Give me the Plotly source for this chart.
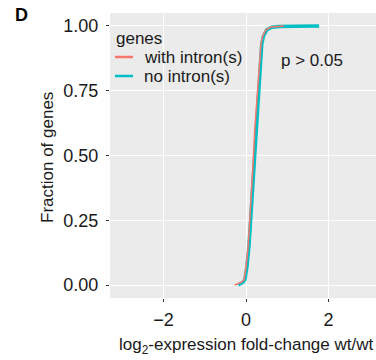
import plotly.graph_objects as go

# ECDF estimates
x_with = [-0.28, -0.12, -0.05, 0.0, 0.05, 0.09, 0.13, 0.17, 0.21, 0.25, 0.29, 0.32, 0.36, 0.40, 0.48, 0.60, 0.92]
f_with = [0.0, 0.01, 0.02, 0.07, 0.15, 0.25, 0.35, 0.47, 0.60, 0.70, 0.78, 0.87, 0.93, 0.96, 0.985, 0.996, 1.0]
x_no = [-0.19, -0.08, -0.03, 0.02, 0.07, 0.11, 0.15, 0.19, 0.23, 0.27, 0.31, 0.34, 0.38, 0.42, 0.50, 0.62, 0.80, 1.2, 1.77]
f_no = [0.0, 0.01, 0.02, 0.07, 0.15, 0.25, 0.35, 0.47, 0.60, 0.70, 0.78, 0.87, 0.93, 0.96, 0.985, 0.995, 0.998, 0.999, 1.0]

series_names = ["with intron(s)", "no intron(s)"]
series_colors = ["#F8766D", "#00BFC4"]
x_ticks = [-2, 0, 2]
x_ticklabels = ["\u22122", "0", "2"]
y_ticks = [0.0, 0.25, 0.5, 0.75, 1.0]
y_ticklabels = ["0.00", "0.25", "0.50", "0.75", "1.00"]

FONT = "Liberation Sans, Arial, Helvetica, sans-serif"
TXT = "#1a1a1a"

fig = go.Figure()
fig.add_trace(go.Scatter(x=x_no, y=f_no, mode="lines", name=series_names[1],
                         line=dict(color=series_colors[1], width=3.5), showlegend=False))
fig.add_trace(go.Scatter(x=x_with, y=f_with, mode="lines", name=series_names[0],
                         line=dict(color=series_colors[0], width=1.5), showlegend=False))

W, H = 376, 360
ml, mr, mt, mb = 110, 0, 13, 62
pw, ph = W - ml - mr, H - mt - mb

def px2paper_x(px):
    return (px - ml) / pw

def px2paper_y(py):
    return (H - mb - py) / ph

ann = []
# Panel label
ann.append(dict(text="<b>D</b>", x=px2paper_x(21), y=px2paper_y(15), xref="paper", yref="paper",
                showarrow=False, font=dict(size=18, color="black", family=FONT), xanchor="center", yanchor="middle"))
# y title
ann.append(dict(text="Fraction of genes", x=px2paper_x(47), y=px2paper_y(158), xref="paper", yref="paper",
                showarrow=False, textangle=-90, font=dict(size=17, color=TXT, family=FONT),
                xanchor="center", yanchor="middle"))
# x title
ann.append(dict(text="log<sub>2</sub>-expression fold-change wt/wt", x=0, y=px2paper_y(346),
                xref="x", yref="paper", showarrow=False, font=dict(size=17, color=TXT, family=FONT),
                xanchor="center", yanchor="middle"))
# p value
ann.append(dict(text="p > 0.05", x=1.6, y=0.865, xref="x", yref="y", showarrow=False,
                font=dict(size=17, color=TXT, family=FONT), xanchor="center", yanchor="middle"))
# legend (manual)
ann.append(dict(text="genes", x=px2paper_x(114), y=px2paper_y(38), xref="paper", yref="paper",
                showarrow=False, font=dict(size=17, color=TXT, family=FONT), xanchor="left", yanchor="middle"))
shapes = []
for i, (nm, col) in enumerate(zip(series_names, series_colors)):
    yy = 57 + 19 * i
    ann.append(dict(text=nm, x=px2paper_x(142), y=px2paper_y(yy), xref="paper", yref="paper",
                    showarrow=False, font=dict(size=17, color=TXT, family=FONT), xanchor="left", yanchor="middle"))
    shapes.append(dict(type="line", xref="paper", yref="paper", x0=px2paper_x(115), x1=px2paper_x(133),
                       y0=px2paper_y(yy), y1=px2paper_y(yy), line=dict(color=col, width=2.5)))

fig.update_layout(
    width=W, height=H,
    margin=dict(l=ml, r=mr, t=mt, b=mb, pad=0),
    paper_bgcolor="white", plot_bgcolor="#EBEBEB",
    font=dict(family=FONT, color=TXT, size=17),
    annotations=ann, shapes=shapes, showlegend=False,
    xaxis=dict(range=[-3.3, 3.15], tickvals=x_ticks, ticktext=x_ticklabels,
               showgrid=True, gridcolor="white", gridwidth=1.3, zeroline=False,
               ticks="outside", ticklen=3, tickcolor="#333333", tickwidth=1,
               tickfont=dict(size=18, color=TXT), showline=False, ticklabelstandoff=2),
    yaxis=dict(range=[-0.05, 1.05], tickvals=y_ticks, ticktext=y_ticklabels,
               showgrid=True, gridcolor="white", gridwidth=1.3, zeroline=False,
               ticks="outside", ticklen=3, tickcolor="#333333", tickwidth=1,
               tickfont=dict(size=18, color=TXT), showline=False, ticklabelstandoff=4),
)

fig.write_html("out.html")
